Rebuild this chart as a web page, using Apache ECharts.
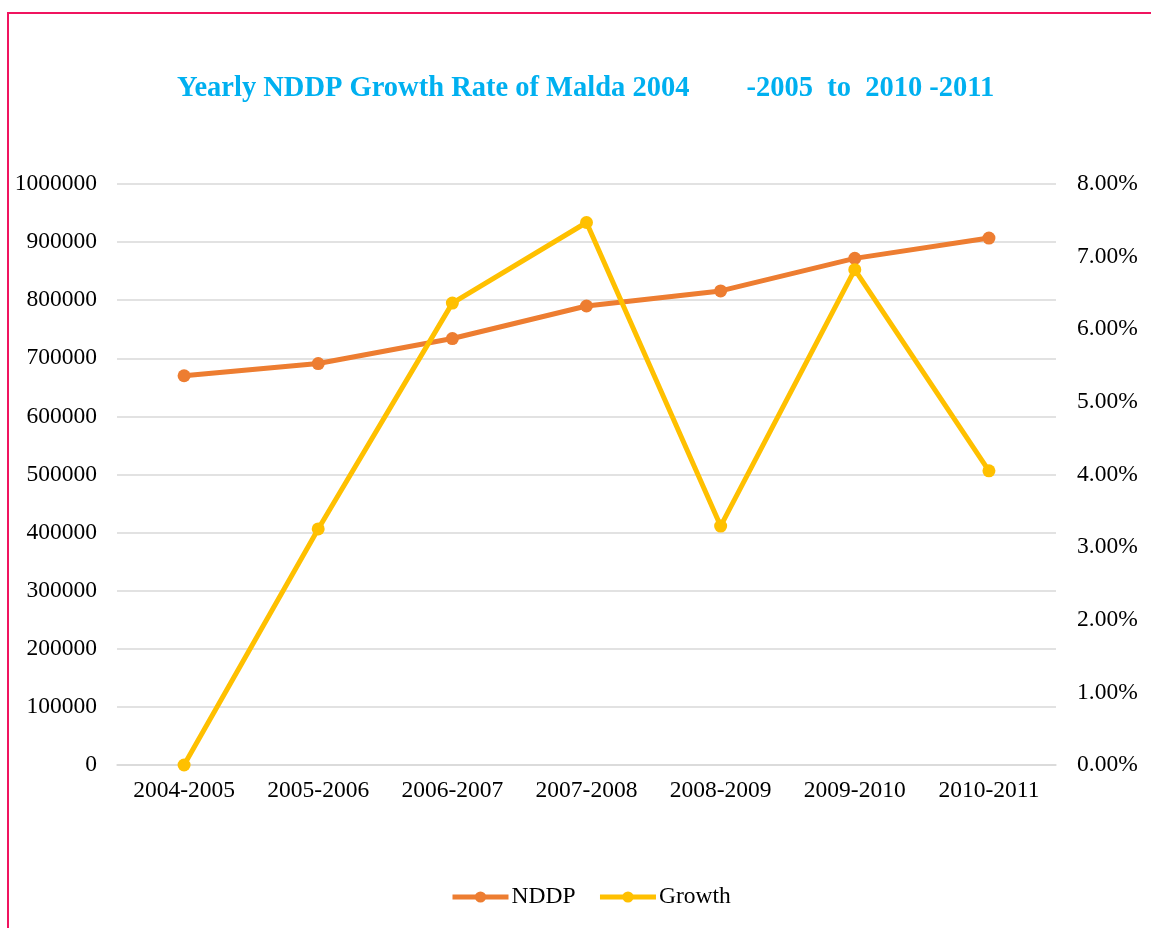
<!DOCTYPE html>
<html>
<head>
<meta charset="utf-8">
<script src="https://cdn.jsdelivr.net/npm/echarts@6/dist/echarts.min.js"></script>
<style>
  html, body { margin: 0; padding: 0; background: #fff; }
  #chart { position: absolute; left: 0; top: 0; width: 1151px; height: 928px; }
  #frame {
    position: absolute; left: 7px; top: 12px; width: 1200px; height: 1000px;
    border-top: 2px solid #f0145f; border-left: 2px solid #f0145f;
    pointer-events: none;
  }
</style>
</head>
<body>
<div id="chart"></div>
<div id="frame"></div>
<script>
const years = ["2004-2005", "2005-2006", "2006-2007", "2007-2008", "2008-2009", "2009-2010", "2010-2011"]
const nddp = [670000, 691000, 734000, 790000, 816000, 872000, 907000]
// growth in percent
const growth = [0, 3.25, 6.36, 7.47, 3.29, 6.82, 4.05]

const font = "'Liberation Serif', 'Times New Roman', serif"
const chart = echarts.init(document.getElementById("chart"))

chart.setOption({
  backgroundColor: "#fff",
  animation: false,
  title: {
    text: "Yearly NDDP Growth Rate of Malda 2004        -2005  to  2010 -2011",
    left: 172,
    top: 69,
    textStyle: { color: "#00b0f0", fontFamily: font, fontWeight: "bold", fontSize: 28.5 },
  },
  grid: { left: 117, right: 95, top: 184, bottom: 163 },
  xAxis: {
    type: "category",
    data: years,
    axisLine: { lineStyle: { color: "#d9d9d9", width: 1.5 } },
    axisTick: { show: false },
    axisLabel: { color: "#000", fontFamily: font, fontSize: 23.5, margin: 14 },
  },
  yAxis: [
    {
      type: "value",
      min: 0,
      max: 1000000,
      interval: 100000,
      axisLine: { show: false },
      axisTick: { show: false },
      axisLabel: {
        color: "#000", fontFamily: font, fontSize: 23.5, margin: 20,
        formatter: (v) => String(v),
      },
      splitLine: { lineStyle: { color: "#d9d9d9", width: 1.5 } },
    },
    {
      type: "value",
      min: 0,
      max: 8,
      interval: 1,
      axisLine: { show: false },
      axisTick: { show: false },
      axisLabel: {
        color: "#000", fontFamily: font, fontSize: 23.5, margin: 21,
        formatter: (v) => v.toFixed(2) + "%",
      },
      splitLine: { show: false },
    },
  ],
  legend: {
    bottom: 14,
    left: 445,
    itemWidth: 56,
    itemHeight: 14,
    itemGap: 22,
    lineStyle: { width: 5 },
    textStyle: { color: "#000", fontFamily: font, fontSize: 23.5, padding: [0, 0, 0, -2] },
    data: ["NDDP", "Growth"],
  },
  series: [
    {
      name: "NDDP",
      type: "line",
      data: nddp,
      symbol: "circle",
      symbolSize: 13,
      lineStyle: { color: "#ed7d31", width: 5 },
      itemStyle: { color: "#ed7d31" },
    },
    {
      name: "Growth",
      type: "line",
      yAxisIndex: 1,
      data: growth,
      symbol: "circle",
      symbolSize: 13,
      lineStyle: { color: "#ffc000", width: 5 },
      itemStyle: { color: "#ffc000" },
    },
  ],
})
</script>
</body>
</html>
